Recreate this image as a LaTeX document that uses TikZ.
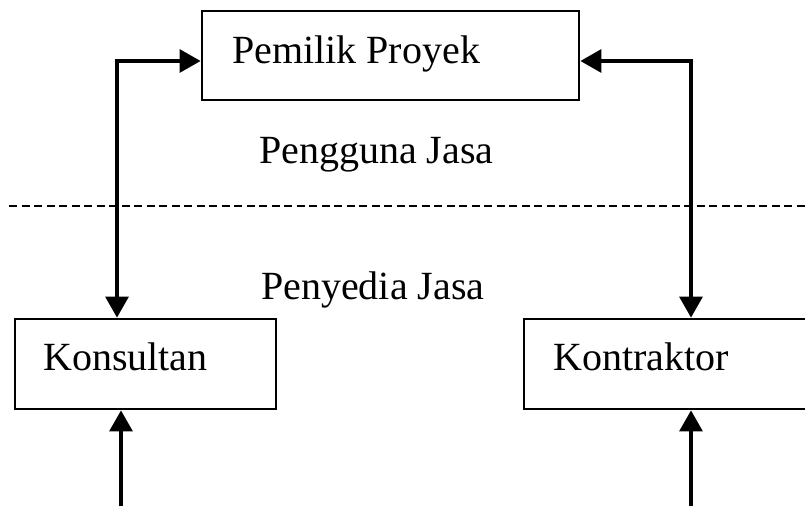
\documentclass[tikz,border=0pt]{standalone}
\usepackage{fontspec}
\setmainfont{Liberation Serif}
\usetikzlibrary{arrows.meta}
\begin{document}
\begin{tikzpicture}[x=1pt,y=-1pt,
  boxstyle/.style={draw=black,line width=2.8pt,rectangle,inner sep=0pt},
  txt/.style={anchor=base west,inner sep=0pt,font=\fontsize{40}{48}\selectfont},
  conn/.style={line width=3.2pt,-{Triangle[length=21pt,width=23pt]}},
  bconn/.style={line width=3.2pt,{Triangle[length=21pt,width=23pt]}-{Triangle[length=21pt,width=23pt]}}]
\useasboundingbox (0,0) rectangle (805,506);
\clip (0,0) rectangle (805,506);
% boxes
\node[boxstyle,minimum width=377pt,minimum height=89pt] (pemilik) at (390.5,55.5) {};
\node[boxstyle,minimum width=261pt,minimum height=90pt] (konsultan) at (145.5,364) {};
\node[boxstyle,minimum width=340pt,minimum height=90pt] (kontraktor) at (694,364) {};
% texts
\node[txt] (tpemilik) at (232,63) {Pemilik Proyek};
\node[txt] (tpengguna) at (259,163) {Pengguna Jasa};
\node[txt] (tpenyedia) at (261,299) {Penyedia Jasa};
\node[txt] (tkonsultan) at (43,370) {Konsultan};
\node[txt] (tkontraktor) at (553,370) {Kontraktor};
% dashed divider
\coordinate (dl) at (9,206);
\coordinate (dr) at (805,206);
\draw[line width=2.8pt,dash pattern=on 8pt off 4.5pt] (dl) -- (dr);
% connectors
\coordinate (lc) at (117,61);
\coordinate (rc) at (691,61);
\draw[bconn] (pemilik.west |- lc) -- (lc) -- (lc |- konsultan.north);
\draw[bconn] (pemilik.east |- rc) -- (rc) -- (rc |- kontraktor.north);
\coordinate (lb) at (121,506);
\coordinate (rb) at (691,506);
\draw[conn] (lb) -- (lb |- konsultan.south);
\draw[conn] (rb) -- (rb |- kontraktor.south);
\end{tikzpicture}
\end{document}
